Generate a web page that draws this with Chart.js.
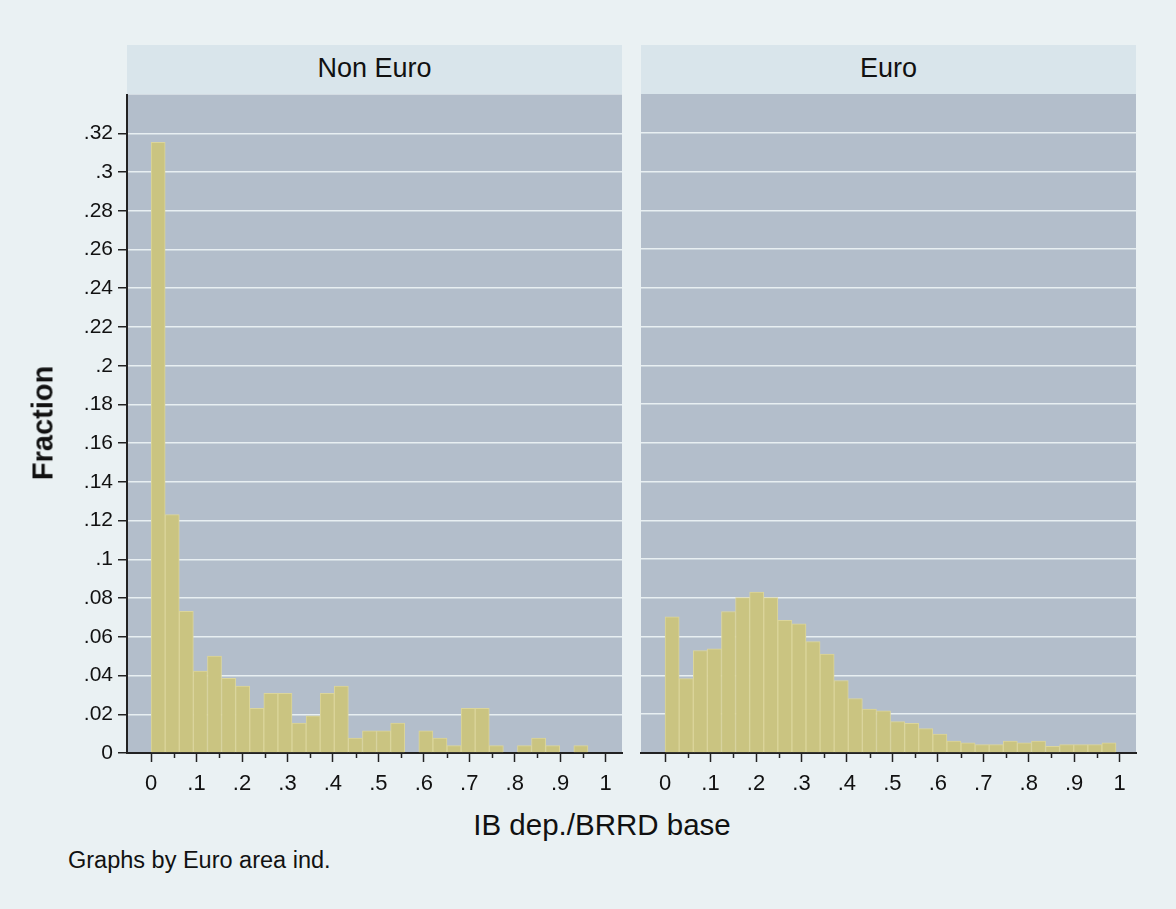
<!DOCTYPE html>
<html>
<head>
<meta charset="utf-8">
<script src="https://cdn.jsdelivr.net/npm/chart.js@4.4.1/dist/chart.umd.min.js"></script>
<style>
  html, body { margin: 0; padding: 0; }
  body {
    width: 1176px; height: 909px; position: relative; overflow: hidden;
    background: #eaf1f3; color: #111;
    font-family: "Liberation Sans", Arial, sans-serif;
  }
  .hdr {
    position: absolute; top: 45px; height: 49px; width: 495px;
    background: #d9e5eb; font-size: 27px; line-height: 47px; text-align: center;
  }
  canvas { position: absolute; }
  .txt { position: absolute; white-space: nowrap; }
</style>
</head>
<body>
<div class="hdr" id="hdr0" style="left:127px"></div>
<div class="hdr" id="hdr1" style="left:641px"></div>
<canvas id="nonEuro" width="630" height="726" style="left:0; top:77px"></canvas>
<canvas id="euro" width="511" height="719" style="left:633px; top:84px"></canvas>
<div class="txt" style="left:43px; top:423px; font-size:29px; font-weight:bold; transform:translate(-50%,-50%) rotate(-90deg)">Fraction</div>
<div class="txt" style="left:602px; top:825px; font-size:29.5px; transform:translate(-50%,-50%)">IB dep./BRRD base</div>
<div class="txt" style="left:68px; top:860px; font-size:23.5px; transform:translateY(-50%)">Graphs by Euro area ind.</div>

<script>
// panels (by Euro area ind.)
const panels = ['Non Euro', 'Euro'];

// histogram bins: 32 bins of equal width starting at 0
const binStart = 0;
const binWidth = 0.031;

// fraction per bin
const nonEuroFraction = [
  0.3154, 0.1231, 0.0731, 0.0423, 0.0500, 0.0385, 0.0346, 0.0231,
  0.0308, 0.0308, 0.0154, 0.0192, 0.0308, 0.0346, 0.0077, 0.0115,
  0.0115, 0.0154, 0, 0.0115, 0.0077, 0.0038, 0.0231, 0.0231,
  0.0038, 0, 0.0038, 0.0077, 0.0038, 0, 0.0038, 0
];
const euroFraction = [
  0.0702, 0.0384, 0.0529, 0.0537, 0.0730, 0.0802, 0.0830, 0.0802,
  0.0684, 0.0666, 0.0575, 0.0510, 0.0374, 0.0281, 0.0226, 0.0217,
  0.0162, 0.0153, 0.0126, 0.0098, 0.0062, 0.0052, 0.0043, 0.0043,
  0.0062, 0.0052, 0.0062, 0.0035, 0.0043, 0.0043, 0.0043, 0.0052
];

// axis ticks
const xTicks = [0, 0.1, 0.2, 0.3, 0.4, 0.5, 0.6, 0.7, 0.8, 0.9, 1];
const xMinorTicks = [0.05, 0.15, 0.25, 0.35, 0.45, 0.55, 0.65, 0.75, 0.85, 0.95];
const yTicks = [0, 0.02, 0.04, 0.06, 0.08, 0.1, 0.12, 0.14, 0.16, 0.18,
                0.2, 0.22, 0.24, 0.26, 0.28, 0.3, 0.32];

document.getElementById('hdr0').textContent = panels[0];
document.getElementById('hdr1').textContent = panels[1];

const FONT = '"Liberation Sans", Arial, sans-serif';

// stata style: drop the leading zero
function fmt(v) {
  const s = String(Math.round(v * 100) / 100);
  return s.replace(/^0\./, '.');
}

const plotBg = {
  id: 'plotBg',
  beforeDraw(chart) {
    const { ctx, chartArea: a } = chart;
    ctx.save();
    ctx.fillStyle = '#b3becb';
    ctx.fillRect(a.left, a.top, a.right - a.left, a.bottom - a.top);
    ctx.restore();
  }
};

const minorTicks = {
  id: 'minorTicks',
  afterDraw(chart) {
    const x = chart.scales.x;
    const ctx = chart.ctx;
    ctx.save();
    ctx.strokeStyle = '#222';
    ctx.lineWidth = 1.5;
    xMinorTicks.forEach(v => {
      const px = Math.round(x.getPixelForValue(v)) + 0.5;
      ctx.beginPath();
      ctx.moveTo(px, x.top);
      ctx.lineTo(px, x.top + 5);
      ctx.stroke();
    });
    ctx.restore();
  }
};

function makePanel(id, values, showY, padTop) {
  const data = values.map((y, i) => ({ x: binStart + (i + 0.5) * binWidth, y: y }));
  return new Chart(document.getElementById(id), {
    type: 'bar',
    data: {
      datasets: [{
        data: data,
        backgroundColor: '#cac481',
        borderColor: '#dbd59b',
        borderWidth: 1,
        barPercentage: 1,
        categoryPercentage: 1
      }]
    },
    options: {
      responsive: false,
      animation: false,
      devicePixelRatio: 1,
      layout: { padding: { top: padTop, right: 8, bottom: 0, left: showY ? 0 : 8 } },
      plugins: { legend: { display: false }, tooltip: { enabled: false } },
      scales: {
        x: {
          type: 'linear',
          min: -0.053,
          max: 1.036,
          offset: false,
          afterBuildTicks: s => { s.ticks = xTicks.map(v => ({ value: v })); },
          afterFit: s => { s.height = 50; },
          grid: { offset: false, drawOnChartArea: false, tickLength: 9, tickColor: '#222', tickWidth: 1.5 },
          border: { color: '#222', width: 2 },
          ticks: {
            font: { family: FONT, size: 22 }, color: '#111', padding: 9,
            maxRotation: 0, autoSkip: false, callback: v => fmt(v)
          }
        },
        y: {
          min: 0,
          max: 0.34,
          afterBuildTicks: s => { s.ticks = yTicks.map(v => ({ value: v })); },
          afterFit: s => { s.width = showY ? 127 : 0; },
          grid: {
            color: c => (c.tick && c.tick.value === 0) ? 'rgba(0,0,0,0)' : '#e8eff2',
            lineWidth: 1.5,
            drawTicks: showY, tickLength: 9, tickColor: '#222', tickWidth: 1.5
          },
          border: { display: showY, color: '#222', width: 2 },
          ticks: {
            display: showY,
            font: { family: FONT, size: 21 }, color: '#111', padding: 5,
            autoSkip: false, callback: v => fmt(v)
          }
        }
      }
    },
    plugins: [plotBg, minorTicks]
  });
}

makePanel('nonEuro', nonEuroFraction, true, 15);
makePanel('euro', euroFraction, false, 10);
</script>
</body>
</html>
